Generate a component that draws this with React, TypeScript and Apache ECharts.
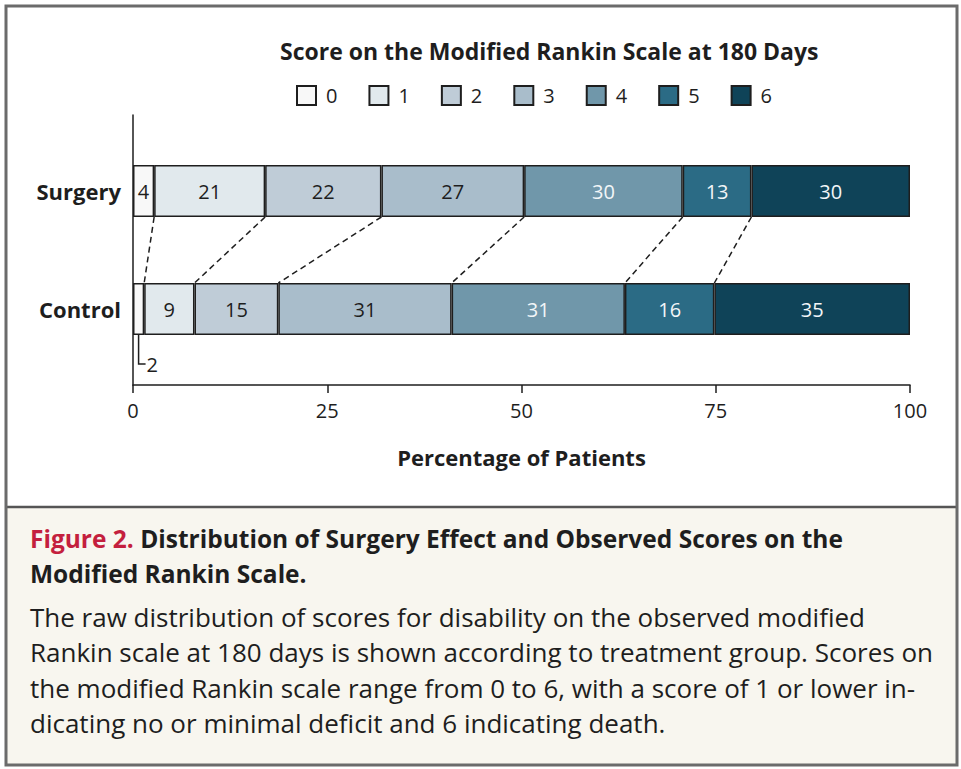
import React, { useEffect, useRef } from "react";
import * as echarts from "echarts";

const categories = ["Control", "Surgery"];
const scores = ["0", "1", "2", "3", "4", "5", "6"];
const surgeryCounts = [4, 21, 22, 27, 30, 13, 30];
const controlCounts = [2, 9, 15, 31, 31, 16, 35];
const scoreColors = ["#f8f8f8", "#e1e9ed", "#bfccd7", "#a9bdcb", "#7097aa", "#2b6b85", "#0f4358"];
const labelColors = ["#1e1e1e", "#1e1e1e", "#1e1e1e", "#1e1e1e", "#f2f6f8", "#f2f6f8", "#f2f6f8"];
const xTicks = [0, 25, 50, 75, 100];

const titleText = "Score on the Modified Rankin Scale at 180 Days";
const xAxisName = "Percentage of Patients";
const captionTitle1 = "Distribution of Surgery Effect and Observed Scores on the";
const captionTitle2 = "Modified Rankin Scale.";
const captionBody = [
  "The raw distribution of scores for disability on the observed modified",
  "Rankin scale at 180 days is shown according to treatment group. Scores on",
  "the modified Rankin scale range from 0 to 6, with a score of 1 or lower in-",
  "dicating no or minimal deficit and 6 indicating death.",
];

const FONT = "'Open Sans', Lato, sans-serif";
const BAR_W = 52;
const DARK = "#1e1e1e";

function toPct(counts: number[]) {
  const total = counts.reduce((a, b) => a + b, 0);
  return counts.map((c) => (c / total) * 100);
}
function cumulative(arr: number[]) {
  const out: number[] = [];
  let s = 0;
  arr.forEach((v) => {
    s += v;
    out.push(s);
  });
  return out;
}

export default function App() {
  const ref = useRef<HTMLDivElement>(null);
  useEffect(() => {
    if (!ref.current) return;
    const chart = echarts.init(ref.current, null, { renderer: "svg" });
    const sPct = toPct(surgeryCounts);
    const cPct = toPct(controlCounts);
    const sCum = cumulative(sPct);
    const cCum = cumulative(cPct);

    const barSeries = scores.map((sc, i) => ({
      type: "bar",
      name: sc,
      stack: "all",
      xAxisIndex: 0,
      yAxisIndex: 0,
      barWidth: BAR_W,
      data: [
        { value: cPct[i], count: controlCounts[i], label: { show: cPct[i] >= 2 } },
        { value: sPct[i], count: surgeryCounts[i], label: { show: sPct[i] >= 2 } },
      ],
      itemStyle: { color: scoreColors[i], borderColor: DARK, borderWidth: 1.5 },
      label: {
        show: true,
        position: "inside",
        formatter: (p: any) => String(p.data.count),
        color: labelColors[i],
        fontSize: 20,
        fontFamily: FONT,
      },
      emphasis: { disabled: true },
    }));

    const connectorData = sCum.slice(0, scores.length - 1).map((s, i) => [s, cCum[i], 0]);

    const option: any = {
      animation: false,
      backgroundColor: "#ffffff",
      title: {
        text: titleText,
        left: 275,
        top: 34,
        textStyle: { fontSize: 23, fontWeight: "bold", color: DARK, fontFamily: FONT },
      },
      legend: {
        left: 291,
        top: 80,
        icon: "rect",
        itemWidth: 19,
        itemHeight: 19,
        itemGap: 31,
        data: scores,
        textStyle: { fontSize: 20, color: DARK, fontFamily: FONT, padding: [0, 0, 0, 5] },
        selectedMode: false,
      },
      grid: [
        { left: 133, right: 51, top: 132, bottom: 401 },
        { left: 133, right: 51, top: 115, bottom: 384 },
      ],
      xAxis: [
        {
          type: "value",
          gridIndex: 0,
          min: 0,
          max: 100,
          interval: 25,
          offset: 17,
          axisLine: { show: true, lineStyle: { color: DARK, width: 1.5 } },
          axisTick: { show: true, length: 8, lineStyle: { color: DARK, width: 1.5 } },
          axisLabel: {
            fontSize: 20,
            color: DARK,
            fontFamily: FONT,
            margin: 15,
            formatter: (v: number) => (xTicks.includes(v) ? String(v) : ""),
          },
          splitLine: { show: false },
          name: xAxisName,
          nameLocation: "middle",
          nameGap: 61,
          nameTextStyle: { fontSize: 22, fontWeight: "bold", color: DARK, fontFamily: FONT },
        },
        { type: "value", gridIndex: 1, show: false, min: 0, max: 100 },
      ],
      yAxis: [
        {
          type: "category",
          gridIndex: 0,
          data: categories,
          axisLine: { show: false },
          axisTick: { show: false },
          axisLabel: { fontSize: 22, fontWeight: "bold", color: DARK, fontFamily: FONT, margin: 12 },
        },
        {
          type: "value",
          gridIndex: 1,
          min: 0,
          max: 1,
          axisLine: { show: true, lineStyle: { color: DARK, width: 1.5 } },
          axisTick: { show: false },
          axisLabel: { show: false },
          splitLine: { show: false },
        },
      ],
      series: [
        ...barSeries,
        {
          type: "custom",
          name: "connectors",
          xAxisIndex: 0,
          yAxisIndex: 0,
          silent: true,
          encode: { x: [0, 1], y: 2 },
          data: connectorData,
          renderItem: (_params: any, api: any) => {
            const p1 = api.coord([api.value(0), 1]);
            const p2 = api.coord([api.value(1), 0]);
            return {
              type: "line",
              shape: { x1: p1[0], y1: p1[1] + BAR_W / 2, x2: p2[0], y2: p2[1] - BAR_W / 2 },
              style: { stroke: DARK, lineWidth: 1.5, lineDash: [6, 4] },
            };
          },
        },
        {
          type: "custom",
          name: "leader",
          xAxisIndex: 0,
          yAxisIndex: 0,
          silent: true,
          encode: { x: 0, y: 1 },
          data: [[cPct[0] / 2, 0, controlCounts[0]]],
          renderItem: (_params: any, api: any) => {
            const p = api.coord([api.value(0), 0]);
            const x = p[0];
            const y0 = p[1] + BAR_W / 2;
            const y1 = y0 + 29;
            return {
              type: "group",
              children: [
                {
                  type: "polyline",
                  shape: { points: [[x, y0], [x, y1], [x + 7, y1]] },
                  style: { stroke: DARK, lineWidth: 1.5, fill: "none" },
                },
                {
                  type: "text",
                  x: x + 8,
                  y: y1,
                  style: {
                    text: String(api.value(2)),
                    fontSize: 20,
                    fontFamily: FONT,
                    fill: DARK,
                    verticalAlign: "middle",
                    align: "left",
                  },
                },
              ],
            };
          },
        },
      ],
      graphic: [
        {
          type: "rect",
          z: -10,
          shape: { x: 6, y: 507, width: 951, height: 258 },
          style: { fill: "#f8f6ef" },
        },
        {
          type: "line",
          z: 100,
          shape: { x1: 6, y1: 507, x2: 957, y2: 507 },
          style: { stroke: "#555555", lineWidth: 2.5 },
        },
        {
          type: "rect",
          z: 100,
          shape: { x: 6, y: 6, width: 951, height: 759 },
          style: { fill: "none", stroke: "#6b6b6b", lineWidth: 3 },
        },
        {
          type: "text",
          x: 30,
          y: 538,
          style: {
            text: "{r|Figure 2.} {b|" + captionTitle1 + "}",
            verticalAlign: "middle",
            rich: {
              r: { fontSize: 24.5, fontWeight: "bold", fill: "#c41f3e", fontFamily: FONT },
              b: { fontSize: 24.5, fontWeight: "bold", fill: DARK, fontFamily: FONT },
            },
            fontSize: 24.5,
            fontFamily: FONT,
          },
        },
        {
          type: "text",
          x: 30,
          y: 573,
          style: {
            text: captionTitle2,
            verticalAlign: "middle",
            fontSize: 24.5,
            fontWeight: "bold",
            fill: DARK,
            fontFamily: FONT,
          },
        },
        ...captionBody.map((line, i) => ({
          type: "text",
          x: 30,
          y: 617 + i * 35.4,
          style: {
            text: line,
            verticalAlign: "middle",
            fontSize: 26,
            fill: DARK,
            fontFamily: FONT,
          },
        })),
      ],
    };
    chart.setOption(option);
    return () => chart.dispose();
  }, []);
  return (
    <div
      ref={ref}
      style={{ position: "absolute", left: 0, top: 0, width: 961, height: 769 }}
    />
  );
}
